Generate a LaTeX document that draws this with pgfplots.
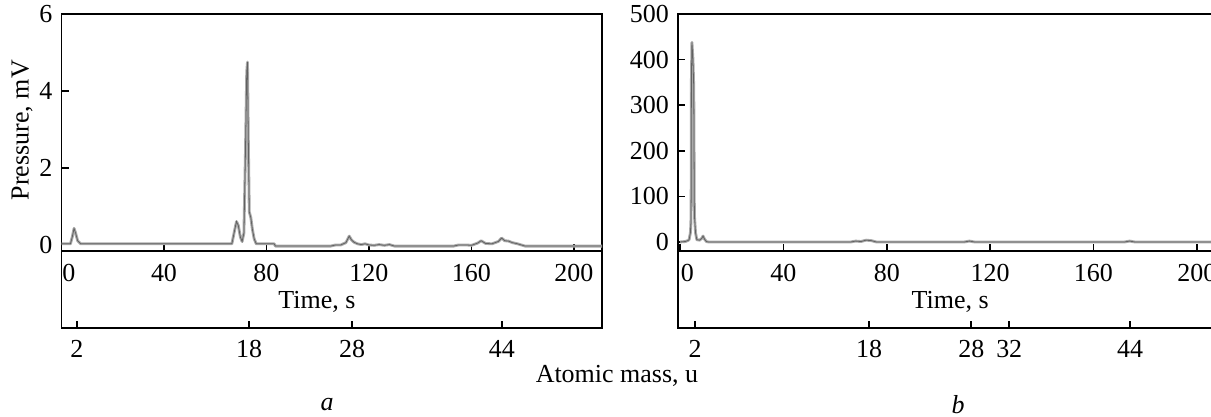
\documentclass[border=0pt]{standalone}
\usepackage{fontspec}
\setmainfont{Liberation Serif}
\usepackage{pgfplots}
\pgfplotsset{compat=1.18}

\pgfplotsset{
  panel/.style={
    scale only axis, width=208.1pt, height=91.25pt, anchor=south west,
    axis line style={line width=0.6pt}, tick style={line width=0.6pt, black},
    major tick length=2.7pt, tick align=inside, xtick pos=bottom, ytick pos=left,
    xtick={40,80,...,200}, xticklabel style={yshift=-1.5pt},
    extra x ticks={0}, extra x tick style={xticklabel style={xshift=2.8pt}},
    /pgf/number format/assume math mode=true,
  },
  massaxis/.style={
    scale only axis, width=208.1pt, height=29.65pt, anchor=south west,
    axis line style={line width=0.6pt}, tick style={line width=0.6pt, black},
    major tick length=2.7pt, tick align=inside, xtick pos=bottom,
    ymin=0, ymax=1, ytick=\empty, xticklabel style={yshift=-1.1pt},
  },
  sig/.style={color=black!33, line width=1.1pt, line join=round},
  core/.style={color=black!62, line width=0.3pt},
}

\pgfplotstableread{
t p
0 0.02
3.5 0.02
4.2 0.2
4.9 0.42
5.5 0.3
6.3 0.1
7.5 0.02
66.5 0.02
67.5 0.35
68.3 0.6
69.0 0.5
69.8 0.2
70.5 0.08
71.2 0.3
71.8 2.4
72.3 4.5
72.6 4.75
72.9 2.8
73.3 0.85
73.9 0.7
74.5 0.4
75.2 0.15
76 0.02
83 0.02
83.5 -0.04
105 -0.04
107 -0.01
109 -0.01
111 0.05
112.3 0.22
113.2 0.12
114.2 0.06
115.5 0.02
117 0.0
118.5 0.02
120 -0.01
122 -0.02
124 0.0
126 -0.02
128 0.0
130 -0.04
153 -0.04
155 -0.01
158 -0.01
160 -0.02
162.5 0.04
163.8 0.1
165.5 0.03
168 0.02
170.5 0.08
171.8 0.17
173 0.1
174.5 0.09
176 0.05
178 0.02
181 -0.04
211 -0.04
}\dataA

\pgfplotstableread{
t p
0 0
2 1
3 3
3.5 5
4.0 20
4.2 40
4.3 96
4.35 210
4.4 357
4.6 438
5.0 400
5.3 340
5.4 237
5.5 95
5.6 55
6.0 20
6.5 5
7.6 4
8.4 8
8.9 13
9.5 6
10.2 1
11 0
66 0
68 2
70 1
72 4
74 3
76 0
110 0
112 2
114 0
172 0
174 2
176 0
209 0
}\dataB

\begin{document}
\begin{tikzpicture}
\useasboundingbox (0,0) rectangle (466.2pt,160.2pt);
\clip (0,0) rectangle (466.2pt,160.2pt);

% panel a
\begin{axis}[panel, at={(23.68pt,63.53pt)}, xmin=0, xmax=211, ymin=-0.17, ymax=6,
  ytick={0,2,4,6}]
\addplot[sig] table[x=t,y=p] {\dataA};
\addplot[core] table[x=t,y=p] {\dataA};
\end{axis}
\begin{axis}[massaxis, at={(23.68pt,33.88pt)}, xmin=0, xmax=211,
  xtick={6,73.2,113.4,171.9}, xticklabels={2,18,28,44}]
\end{axis}

% panel b
\begin{axis}[panel, at={(261.0pt,63.53pt)}, xmin=-0.8, xmax=208.4, ymin=-20, ymax=500,
  ytick={0,100,...,500}]
\addplot[sig] table[x=t,y=p] {\dataB};
\addplot[core] table[x=t,y=p] {\dataB};
\end{axis}
\begin{axis}[massaxis, at={(261.0pt,33.88pt)}, xmin=-0.8, xmax=208.4,
  xtick={5.8,73.2,112.7,127.4,174.2}, xticklabels={2,18,28,32,44}]
\end{axis}

\node[rotate=90] at (8.5pt,110.1pt) {Pressure, mV};
\node at (122.0pt,43.9pt) {Time, s};
\node at (365.8pt,43.9pt) {Time, s};
\node at (237.5pt,15.4pt) {Atomic mass, u};
\node at (125.9pt,4.6pt) {\itshape a};
\node at (368.8pt,4.6pt) {\itshape b};
\end{tikzpicture}
\end{document}
